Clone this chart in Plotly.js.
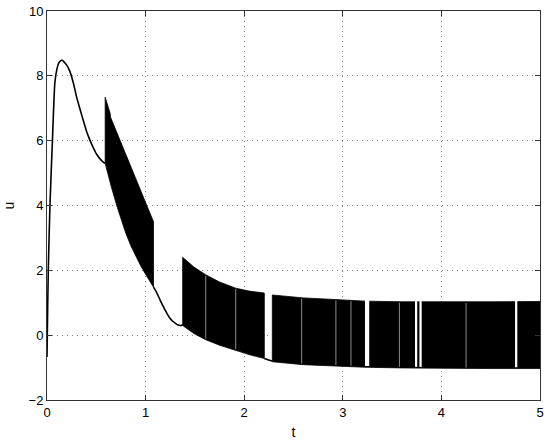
<!DOCTYPE html>
<html>
<head>
<meta charset="utf-8">
<script src="https://cdn.plot.ly/plotly-3.0.1.min.js"></script>
<style>html,body{margin:0;padding:0;background:#fff}#chart{width:550px;height:444px}</style>
</head>
<body>
<div id="chart"></div>
<script>
// ---- data ----
// continuous transient before first chattering interval
var curveA_t = [0, 0.003, 0.013, 0.03, 0.055, 0.08, 0.10, 0.12, 0.14, 0.155, 0.17, 0.20, 0.233, 0.27, 0.30, 0.335, 0.368, 0.40, 0.436, 0.47, 0.504, 0.54, 0.57, 0.59];
var curveA_u = [-0.67, 0.0, 2.0, 4.0, 6.0, 7.8, 8.2, 8.4, 8.47, 8.48, 8.44, 8.33, 8.13, 7.75, 7.35, 6.97, 6.62, 6.3, 6.01, 5.78, 5.58, 5.43, 5.34, 5.3];
// chattering band 1 envelopes
var band1Up_t = [0.59, 0.64, 0.645, 1.08];
var band1Up_u = [7.34, 6.85, 6.72, 3.5];
var band1Lo_t = [0.59, 0.65, 0.707, 0.757, 0.80, 0.85, 0.90, 0.95, 1.0, 1.04, 1.08];
var band1Lo_u = [5.3, 4.6, 4.0, 3.52, 3.14, 2.76, 2.43, 2.14, 1.88, 1.67, 1.48];
// continuous segment between band 1 and band 2
var curveB_t = [1.08, 1.11, 1.146, 1.18, 1.215, 1.247, 1.275, 1.30, 1.33, 1.355, 1.376];
var curveB_u = [1.48, 1.33, 1.09, 0.88, 0.68, 0.52, 0.43, 0.37, 0.31, 0.30, 0.31];
// chattering band 2 envelopes
var band2Up_t = [1.376, 1.49, 1.61, 1.75, 1.914, 2.05, 2.204];
var band2Up_u = [2.4, 2.1, 1.86, 1.64, 1.45, 1.36, 1.3];
var band2Lo_t = [1.376, 1.49, 1.61, 1.75, 1.914, 2.05, 2.204];
var band2Lo_u = [0.3, 0.05, -0.14, -0.31, -0.46, -0.6, -0.72];
// continuous segment in the gap
var curveC_t = [2.204, 2.24, 2.285];
var curveC_u = [-0.72, -0.76, -0.8];
// chattering band 3 envelopes
var band3Up_t = [2.285, 2.6, 2.92, 3.23, 3.6, 4.0, 4.5, 5.0];
var band3Up_u = [1.24, 1.15, 1.1, 1.05, 1.03, 1.02, 1.03, 1.04];
var band3Lo_t = [2.285, 2.6, 2.92, 3.23, 3.6, 4.0, 4.5, 5.0];
var band3Lo_u = [-0.82, -0.91, -0.95, -0.99, -1.01, -1.03, -1.03, -1.03];
// short pauses in the switching (white gaps) and very short ones (faint lines)
var gapStart = [3.225, 3.732, 3.777, 4.747];
var gapEnd   = [3.268, 3.755, 3.800, 4.770];
var faintT = [1.61, 1.914, 2.583, 2.93, 3.083, 3.574, 4.25];
var xTicks = [0, 1, 2, 3, 4, 5];
var yTicks = [-2, 0, 2, 4, 6, 8, 10];

// ---- helpers ----
function interp(ts, us, t) {
  if (t <= ts[0]) return us[0];
  for (var i = 1; i < ts.length; i++) {
    if (t <= ts[i]) { var f = (t - ts[i-1]) / (ts[i] - ts[i-1]); return us[i-1] + f * (us[i] - us[i-1]); }
  }
  return us[us.length - 1];
}
function band(upT, upU, loT, loU) {
  return {
    x: upT.concat(loT.slice().reverse(), [upT[0]]),
    y: upU.concat(loU.slice().reverse(), [upU[0]]),
    mode: 'lines', fill: 'toself', fillcolor: '#000',
    line: {color: '#000', width: 0.8}, hoverinfo: 'skip', showlegend: false
  };
}
function curve(t, u) {
  return {x: t, y: u, mode: 'lines', line: {color: '#000', width: 1.6, shape: 'spline', smoothing: 0.6}, showlegend: false};
}

var traces = [
  curve(curveA_t, curveA_u),
  band(band1Up_t, band1Up_u, band1Lo_t, band1Lo_u),
  curve(curveB_t, curveB_u),
  band(band2Up_t, band2Up_u, band2Lo_t, band2Lo_u),
  curve(curveC_t, curveC_u),
  band(band3Up_t, band3Up_u, band3Lo_t, band3Lo_u)
];
// white gaps
for (var g = 0; g < gapStart.length; g++) {
  var a = gapStart[g], b = gapEnd[g];
  var m = (a + b) / 2;
  var lo = interp(band3Lo_t, band3Lo_u, m) + 0.04;
  var hi = interp(band3Up_t, band3Up_u, m) + 0.1;
  traces.push({x: [a, b, b, a, a], y: [lo, lo, hi, hi, lo], mode: 'lines', fill: 'toself', fillcolor: '#fff', line: {width: 0, color: '#fff'}, hoverinfo: 'skip', showlegend: false});
}
// faint lines
var fx = [], fy = [];
faintT.forEach(function (t) {
  var up, lo;
  if (t < 2.25) { up = interp(band2Up_t, band2Up_u, t); lo = interp(band2Lo_t, band2Lo_u, t); }
  else { up = interp(band3Up_t, band3Up_u, t); lo = interp(band3Lo_t, band3Lo_u, t); }
  fx.push(t, t, null); fy.push(lo + 0.03, up - 0.03, null);
});
traces.push({x: fx, y: fy, mode: 'lines', line: {color: 'rgba(255,255,255,0.55)', width: 1}, hoverinfo: 'skip', showlegend: false});

var axisCommon = {
  showline: true, mirror: 'ticks', linecolor: '#333', linewidth: 1,
  ticks: 'inside', ticklen: 5, tickcolor: '#333', tickwidth: 1,
  showgrid: true, gridcolor: '#808080', gridwidth: 1, griddash: '1px,4px',
  zeroline: false, tickfont: {family: 'Liberation Sans, Arial, sans-serif', size: 13, color: '#000'}
};
var layout = {
  width: 550, height: 444,
  margin: {l: 47, r: 10, t: 11, b: 44},
  paper_bgcolor: '#fff', plot_bgcolor: '#fff',
  font: {family: 'Liberation Sans, Arial, sans-serif', size: 13, color: '#000'},
  showlegend: false,
  xaxis: Object.assign({}, axisCommon, {range: [0, 5], tickvals: xTicks, ticktext: xTicks.map(String),
    title: {text: 't', font: {size: 14}, standoff: 8}}),
  yaxis: Object.assign({}, axisCommon, {range: [-2, 10], tickvals: yTicks, ticktext: yTicks.map(function (v) { return v < 0 ? '\u2212' + (-v) : String(v); }),
    title: {text: 'u', font: {size: 14}, standoff: 10}})
};
Plotly.newPlot('chart', traces, layout, {displayModeBar: false, staticPlot: true});
</script>
</body>
</html>
